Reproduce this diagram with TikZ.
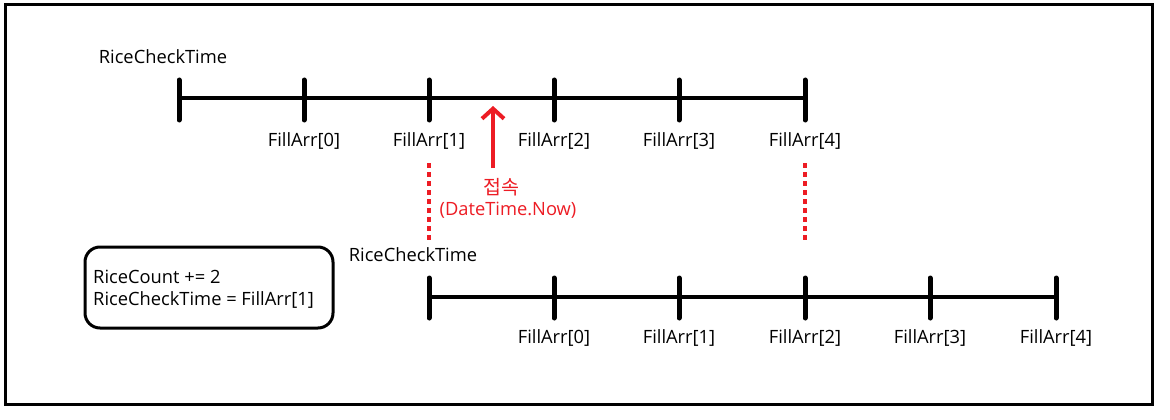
\documentclass[tikz,border=0pt]{standalone}
\usepackage{fontspec}
\setmainfont{Open Sans}
\newfontfamily\kor{Noto Sans CJK KR}
\usetikzlibrary{arrows.meta}
\definecolor{pred}{RGB}{237,28,36}
\begin{document}
\begin{tikzpicture}[x=1pt,y=-1pt,
  lbl/.style={font=\fontsize{18.3}{22}\selectfont, inner sep=0pt, anchor=center},
  axis/.style={line width=4.5pt},
  tick/.style={line width=5pt, line cap=round},
  reddot/.style={pred, line width=4.5pt, dash pattern=on 5pt off 4pt},
]
\useasboundingbox (0,0) rectangle (1170,420);
\fill[white] (0,0) rectangle (1170,420);
\draw[line width=3pt] (5,5) rectangle (1152,404);

% top timeline
\node[lbl] (rct1) at (163,57) {RiceCheckTime};
\foreach \i/\x in {0/179,1/304,2/429,3/554,4/679,5/805}{
  \coordinate (ta\i) at (\x,80);
  \coordinate (tb\i) at (\x,120);
  \draw[tick] (ta\i) -- (tb\i);
}
\coordinate (tl) at (179,98);
\coordinate (tr) at (805,98);
\draw[axis] (tl) -- (tr);
\foreach \i/\x in {0/304,1/429,2/554,3/679,4/805}{
  \node[lbl] (fa\i) at (\x,141) {FillArr[\i]};
}

% red arrow
\coordinate (arrS) at (493,168);
\coordinate (arrE) at (493,106);
\draw[pred, line width=4pt, -{Straight Barb[length=10pt,width=22pt,line width=4pt]}] (arrS) -- (arrE);
\node[lbl, text=pred] (con) at (501,187) {\kor\fontsize{19.5}{22}\selectfont 접속};
\node[lbl, text=pred] (dtn) at (508,210) {(DateTime.Now)};

% red dotted lines
\coordinate (d1a) at (429,163);
\coordinate (d1b) at (429,243);
\coordinate (d2a) at (805,163);
\coordinate (d2b) at (805,243);
\draw[reddot] (d1a) -- (d1b);
\draw[reddot] (d2a) -- (d2b);

% bottom timeline
\node[lbl] (rct2) at (413,255) {RiceCheckTime};
\foreach \i/\x in {0/429,1/554,2/679,3/805,4/930,5/1056}{
  \coordinate (ba\i) at (\x,278);
  \coordinate (bb\i) at (\x,318);
  \draw[tick] (ba\i) -- (bb\i);
}
\coordinate (bl) at (429,297);
\coordinate (br) at (1056,297);
\draw[axis] (bl) -- (br);
\foreach \i/\x in {0/554,1/679,2/805,3/930,4/1056}{
  \node[lbl] (fb\i) at (\x,338) {FillArr[\i]};
}

% box
\draw[line width=3pt, rounded corners=15pt] (85,247) rectangle (333,328);
\node[lbl, anchor=west, align=left] (code) at (93,289) {RiceCount += 2\\RiceCheckTime = FillArr[1]};
\end{tikzpicture}
\end{document}
